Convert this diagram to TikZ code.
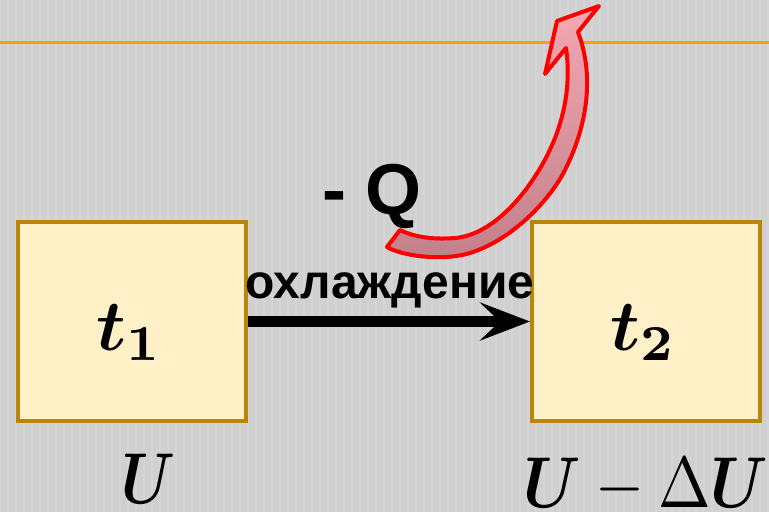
\documentclass[tikz,border=0pt]{standalone}
\usepackage{amsmath,bm}
\usepackage[no-math]{fontspec}
\setmainfont{Liberation Sans}
\usetikzlibrary{arrows.meta}
\definecolor{bg}{RGB}{208,208,208}
\definecolor{boxfill}{RGB}{255,240,200}
\definecolor{boxline}{RGB}{184,134,11}
\definecolor{orangeline}{RGB}{240,165,0}
\definecolor{pinkA}{RGB}{244,168,178}
\definecolor{pinkB}{RGB}{192,128,138}
\newcommand{\bigmath}[1]{\scalebox{7.2}{$\boldsymbol{#1}$}}
\newcommand{\narrowmath}[2]{\scalebox{#1}[7.2]{$#2$}}
\tikzset{
  statebox/.style={draw=boxline, line width=4pt, fill=boxfill, minimum width=228pt, minimum height=199pt, inner sep=0pt},
  mathlbl/.style={inner sep=0pt, font=\fontsize{10}{12}\selectfont},
  sanslbl/.style={inner sep=0pt, font=\bfseries\fontsize{48}{56}\selectfont},
}
\begin{document}
\begin{tikzpicture}[x=1pt,y=-1pt]
\useasboundingbox (0,0) rectangle (769,512);
\fill[bg] (0,0) rectangle (769,512);
\foreach \i in {0,8,...,769} \draw[white,opacity=0.12,line width=2pt] (\i,0) -- (\i,512);
\draw[orangeline, line width=3pt] (0,42) -- (769,42);
\node[statebox] (b1) at (132,321.5) {};
\node[statebox] (b2) at (646,321.5) {};
\node[mathlbl, anchor=base] (t1) at (130,350) {\bigmath{t_1}};
\node[mathlbl, anchor=base] (t2) at (644,350) {\bigmath{t_2}};
\node[mathlbl, anchor=base] (u1) at (148,503) {\narrowmath{5.9}{\boldsymbol{U}}};
\node[mathlbl, anchor=base] (u2) at (646,507) {\narrowmath{6.3}{\boldsymbol{U}-\Delta\boldsymbol{U}}};
\node[sanslbl, anchor=base] (lbl) at (390,298) {охлаждение};
\node[inner sep=0pt, font=\bfseries\fontsize{72}{78}\selectfont, anchor=base] (q) at (372,214) {- Q};
\draw[line width=11pt, -{Stealth[length=50pt,width=38pt,inset=20pt]}] (b1.east) -- (b2.west);
\draw[red, line width=4pt, line join=round, top color=pinkA, bottom color=pinkB]
  (387,247) .. controls (400,255) and (440,262) .. (470,253)
  .. controls (512,240) and (550,200) .. (565,170)
  .. controls (585,130) and (596,80) .. (578,32)
  -- (599,6) -- (557,21) -- (545,74) -- (566,48)
  .. controls (572,90) and (562,130) .. (542,165)
  .. controls (522,200) and (490,235) .. (455,238)
  .. controls (430,240) and (412,236) .. (400,230) -- cycle;
\end{tikzpicture}
\end{document}
